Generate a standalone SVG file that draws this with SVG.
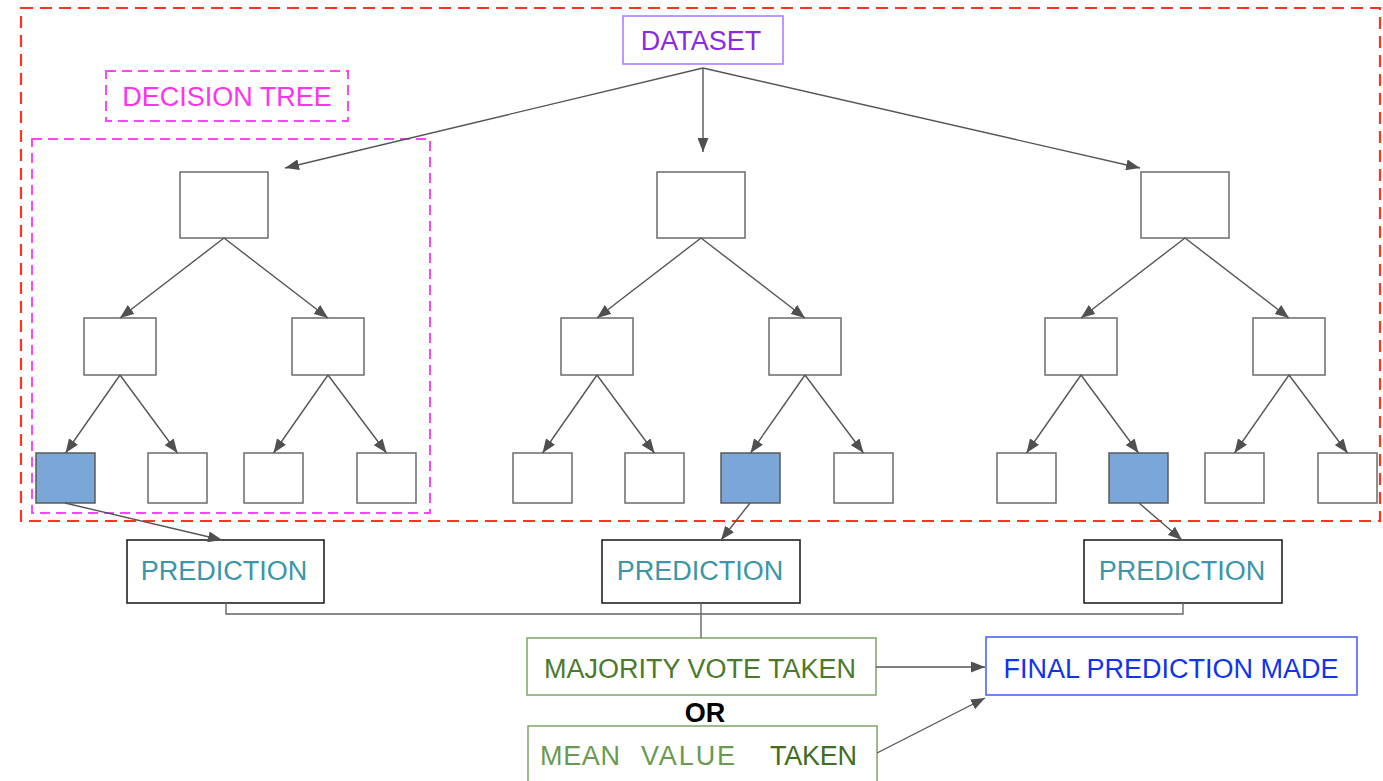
<svg xmlns="http://www.w3.org/2000/svg" width="1383" height="781" viewBox="0 0 1383 781">
  <style>
    text { font-family: "Liberation Sans", Arial, sans-serif; font-size: 27px; text-anchor: middle; }
    .node { fill: #ffffff; stroke: #6b6b6b; stroke-width: 1.5; }
    .leaf-hit { fill: #7ba7d8; stroke: #5a5a5a; stroke-width: 1.5; }
    .pred { fill: #ffffff; stroke: #222222; stroke-width: 1.6; }
    .pred-text { fill: #3a96a8; }
    .edge { fill: none; stroke: #555555; stroke-width: 1.4; marker-end: url(#arrow); }
    .line { fill: none; stroke: #666666; stroke-width: 1.4; }
    .frame-red { fill: none; stroke: #ff3322; stroke-width: 2.2; stroke-dasharray: 12 7; }
    .frame-pink { fill: none; stroke: #ff44ff; stroke-width: 2; stroke-dasharray: 10 6; }
    .agg { fill: #ffffff; stroke: #7ea66a; stroke-width: 1.5; }
  </style>
  <defs>
    <marker id="arrow" markerUnits="userSpaceOnUse" markerWidth="15" markerHeight="11" refX="14" refY="5.5" orient="auto">
      <path d="M0,0 L14,5.5 L0,11 z" fill="#505050"/>
    </marker>
  </defs>

  <rect width="1383" height="781" fill="#ffffff"/>

  <!-- ensemble frame -->
  <rect id="forest-frame" class="frame-red" x="21" y="8" width="1359" height="513"/>

  <!-- dataset -->
  <g id="dataset">
    <rect x="623" y="16" width="160" height="48" fill="#ffffff" stroke="#b27cff" stroke-width="1.6"/>
    <text x="701" y="50" fill="#8a2be2">DATASET</text>
  </g>

  <!-- decision tree label and outline -->
  <g id="decision-tree-label">
    <rect class="frame-pink" x="106" y="71" width="242" height="50"/>
    <text x="227" y="106" fill="#ff33ee">DECISION TREE</text>
  </g>
  <rect id="decision-tree-frame" class="frame-pink" x="32" y="139" width="398" height="374"/>

  <!-- tree 1 -->
  <g id="tree1">
    <g id="t1-root"><rect class="node" x="180" y="172" width="88" height="66"/></g>
    <g id="t1-n1"><rect class="node" x="84" y="318" width="72" height="57"/></g>
    <g id="t1-n2"><rect class="node" x="292" y="318" width="72" height="57"/></g>
    <g id="t1-l1"><rect class="leaf-hit" x="36" y="453" width="59" height="50"/></g>
    <g id="t1-l2"><rect class="node" x="148" y="453" width="59" height="50"/></g>
    <g id="t1-l3"><rect class="node" x="244" y="453" width="59" height="50"/></g>
    <g id="t1-l4"><rect class="node" x="357" y="453" width="59" height="50"/></g>
  </g>

  <!-- tree 2 -->
  <g id="tree2">
    <g id="t2-root"><rect class="node" x="657" y="172" width="88" height="66"/></g>
    <g id="t2-n1"><rect class="node" x="561" y="318" width="72" height="57"/></g>
    <g id="t2-n2"><rect class="node" x="769" y="318" width="72" height="57"/></g>
    <g id="t2-l1"><rect class="node" x="513" y="453" width="59" height="50"/></g>
    <g id="t2-l2"><rect class="node" x="625" y="453" width="59" height="50"/></g>
    <g id="t2-l3"><rect class="leaf-hit" x="721" y="453" width="59" height="50"/></g>
    <g id="t2-l4"><rect class="node" x="834" y="453" width="59" height="50"/></g>
  </g>

  <!-- tree 3 -->
  <g id="tree3">
    <g id="t3-root"><rect class="node" x="1141" y="172" width="88" height="66"/></g>
    <g id="t3-n1"><rect class="node" x="1045" y="318" width="72" height="57"/></g>
    <g id="t3-n2"><rect class="node" x="1253" y="318" width="72" height="57"/></g>
    <g id="t3-l1"><rect class="node" x="997" y="453" width="59" height="50"/></g>
    <g id="t3-l2"><rect class="leaf-hit" x="1109" y="453" width="59" height="50"/></g>
    <g id="t3-l3"><rect class="node" x="1205" y="453" width="59" height="50"/></g>
    <g id="t3-l4"><rect class="node" x="1318" y="453" width="59" height="50"/></g>
  </g>

  <!-- predictions -->
  <g id="pred1">
    <rect class="pred" x="127" y="540" width="197" height="63"/>
    <text class="pred-text" x="224" y="580">PREDICTION</text>
  </g>
  <g id="pred2">
    <rect class="pred" x="602" y="540" width="198" height="63"/>
    <text class="pred-text" x="700" y="580">PREDICTION</text>
  </g>
  <g id="pred3">
    <rect class="pred" x="1084" y="540" width="198" height="63"/>
    <text class="pred-text" x="1182" y="580">PREDICTION</text>
  </g>

  <!-- aggregation -->
  <g id="majority">
    <rect class="agg" x="527" y="638" width="349" height="57"/>
    <text x="700" y="678" fill="#4a7a2c">MAJORITY VOTE TAKEN</text>
  </g>
  <g id="or-label">
    <text x="705" y="722" fill="#000000" font-weight="bold" font-size="31">OR</text>
  </g>
  <g id="mean">
    <rect class="agg" x="528" y="726" width="349" height="70"/>
    <text y="765" style="text-anchor:start">
      <tspan x="540" fill="#6a9a50" textLength="80">MEAN</tspan><tspan x="641" fill="#6a9a50" textLength="94">VALUE</tspan><tspan x="770" fill="#3f6e22" textLength="87">TAKEN</tspan>
    </text>
  </g>
  <g id="final">
    <rect x="986" y="637" width="371" height="58" fill="#ffffff" stroke="#4a66ff" stroke-width="1.6"/>
    <text x="1171" y="678" fill="#1133ee">FINAL PREDICTION MADE</text>
  </g>

  <!-- connectors -->
  <g id="connectors">
    <path class="edge" d="M703,68 L285,168"/>
    <path class="edge" d="M703,68 L703,152"/>
    <path class="edge" d="M703,68 L1140,168"/>

    <path class="edge" d="M224,238 L120,318"/>
    <path class="edge" d="M224,238 L328,318"/>
    <path class="edge" d="M120,375 L65.5,453"/>
    <path class="edge" d="M120,375 L177.5,453"/>
    <path class="edge" d="M328,375 L273.5,453"/>
    <path class="edge" d="M328,375 L386.5,453"/>

    <path class="edge" d="M701,238 L597,318"/>
    <path class="edge" d="M701,238 L805,318"/>
    <path class="edge" d="M597,375 L542.5,453"/>
    <path class="edge" d="M597,375 L654.5,453"/>
    <path class="edge" d="M805,375 L750.5,453"/>
    <path class="edge" d="M805,375 L863.5,453"/>

    <path class="edge" d="M1185,238 L1081,318"/>
    <path class="edge" d="M1185,238 L1289,318"/>
    <path class="edge" d="M1081,375 L1026.5,453"/>
    <path class="edge" d="M1081,375 L1138.5,453"/>
    <path class="edge" d="M1289,375 L1234.5,453"/>
    <path class="edge" d="M1289,375 L1347.5,453"/>

    <path class="edge" d="M65,503 L222,540"/>
    <path class="edge" d="M750,503 L721,540"/>
    <path class="edge" d="M1139,503 L1182,540"/>

    <path class="line" d="M226,603 L226,614 L1183,614 L1183,603"/>
    <path class="line" d="M701,603 L701,638"/>

    <path class="edge" d="M876,667 L985,667"/>
    <path class="edge" d="M877,753 L985,698"/>
  </g>
</svg>
